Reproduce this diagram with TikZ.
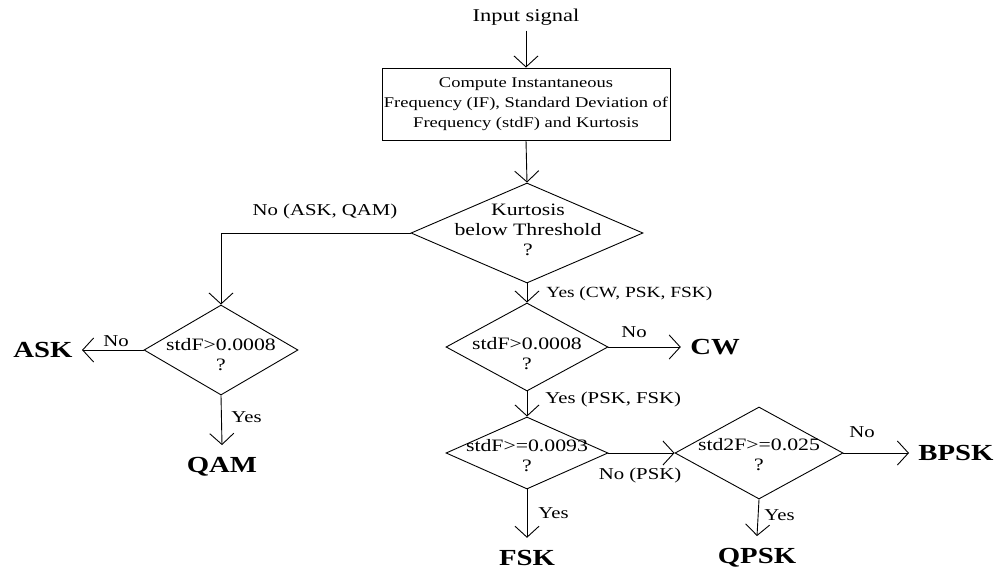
\documentclass[tikz,border=0pt]{standalone}
\usepackage{fontspec}
\setmainfont{Liberation Serif}[FakeStretch=1.25]
\usetikzlibrary{shapes.geometric,arrows.meta}
\newcommand\fsz[1]{\fontsize{#1}{20}\selectfont}
\tikzset{
  lab/.style={inner sep=0pt, font=\fsz{16.6}},
  dtext/.style={inner sep=0pt, align=center, font=\fsz{17.4}},
  dia/.style={diamond, draw, inner sep=0pt},
  term/.style={inner xsep=9pt, inner ysep=12pt, font=\fsz{23}\bfseries},
  arr/.style={-{Straight Barb[length=11pt,width=24pt]}},
}
\begin{document}
\begin{tikzpicture}[x=1pt,y=-1pt,line width=0.9pt]
\useasboundingbox[fill=white] (0,0) rectangle (998,570);
% nodes
\node[lab, font=\fsz{18}, inner ysep=5pt] (in) at (526,17) {Input signal};
\node[draw, minimum width=288pt, minimum height=72pt, inner sep=0pt, align=center, font=\fsz{14.8}] (box) at (526,104)
  {Compute Instantaneous\\Frequency (IF), Standard Deviation of\\Frequency (stdF) and Kurtosis};
\node[dia, minimum width=232pt, minimum height=100pt] (k1) at (527,233) {};
\node[dtext] (k1t) at (528,230) {Kurtosis\\below Threshold\\?};
\node[dia, minimum width=154pt, minimum height=90pt] (d2) at (221,350) {};
\node[dtext] (d2t) at (221,355) {stdF>0.0008\\?};
\node[dia, minimum width=162pt, minimum height=88pt] (d3) at (527,347) {};
\node[dtext] (d3t) at (527,354) {stdF>0.0008\\?};
\node[dia, minimum width=162pt, minimum height=72pt] (d4) at (527,453) {};
\node[dtext] (d4t) at (527,456) {stdF>=0.0093\\?};
\node[dia, minimum width=168pt, minimum height=92pt] (d5) at (759,453) {};
\node[dtext] (d5t) at (759,455) {std2F>=0.025\\?};
% terminals
\node[term] (ask) at (43,350) {ASK};
\node[term] (qam) at (222,467) {QAM};
\node[term] (cw) at (715,347) {CW};
\node[term] (fsk) at (527,558) {FSK};
\node[term] (qpsk) at (757,558) {QPSK};
\node[term] (bpsk) at (956,453) {BPSK};
% connectors
\draw[arr] (in.south) -- (box.north);
\draw[arr] (box.south) -- (k1.north);
\draw[arr] (k1.west) -| (d2.north);
\draw[arr] (k1.south) -- (d3.north);
\draw[arr] (d2.west) -- (ask.east);
\draw[arr] (d2.south) -- (qam.north);
\draw[arr] (d3.east) -- (cw.west);
\draw[arr] (d3.south) -- (d4.north);
\draw[arr] (d4.east) -- (d5.west);
\draw[arr] (d4.south) -- (fsk.north);
\draw[arr] (d5.east) -- (bpsk.west);
\draw[arr] (d5.south) -- (qpsk.north);
% labels
\node[lab] (l1) at (325,212) {No (ASK, QAM)};
\node[lab, anchor=west, font=\fsz{15.5}] (l2) at (546,294) {Yes (CW, PSK, FSK)};
\node[lab] (l3) at (116,341) {No};
\node[lab, anchor=west] (l4) at (231,417) {Yes};
\node[lab] (l5) at (634,332) {No};
\node[lab, anchor=west] (l6) at (545,400) {Yes (PSK, FSK)};
\node[lab] (l7) at (640,476) {No (PSK)};
\node[lab, anchor=west] (l8) at (538,513) {Yes};
\node[lab] (l9) at (862,432) {No};
\node[lab, anchor=west] (l10) at (764,515) {Yes};
\end{tikzpicture}
\end{document}
